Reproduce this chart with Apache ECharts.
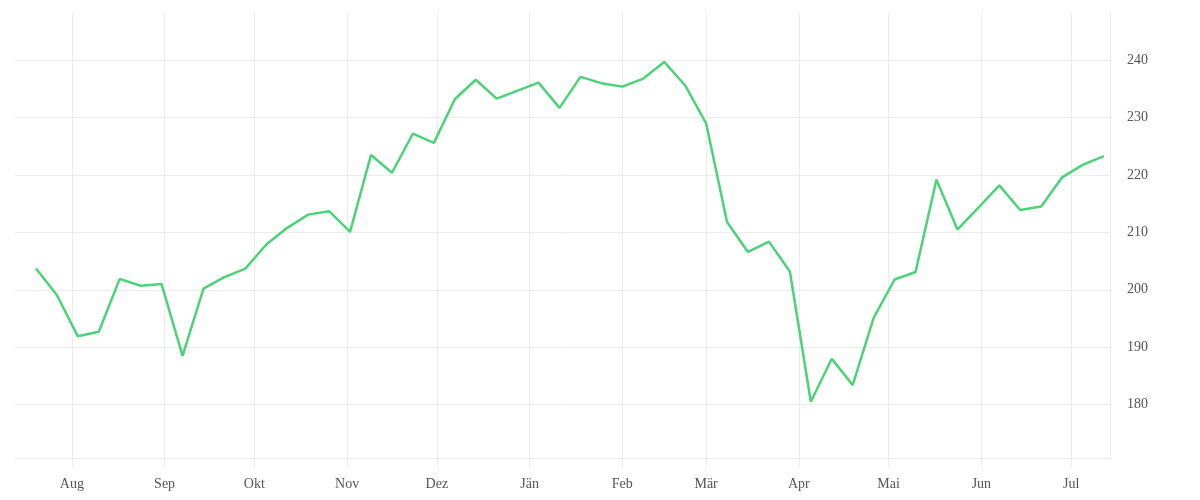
<!DOCTYPE html>
<html>
	<head>
		<meta charset="UTF-8">
		<title></title>
		<style type="text/css">
			* {
				margin: 0;
				padding: 0;
			}
			#chart {
				width: 1200px;
				height: 500px;
			}
		</style>
	</head>
	<body>
		<div id="chart"></div>
		<script src="https://cdn.jsdelivr.net/npm/echarts@6/dist/echarts.min.js"></script>
		<script type="text/javascript">
			// erster Wert, danach woechentlich
			var startDate = '2018-07-20';
			var values = [
				203.7, 199.1, 191.9, 192.7, 201.9, 200.7, 201.0, 188.5, 200.2, 202.2,
				203.7, 207.9, 210.8, 213.1, 213.7, 210.1, 223.5, 220.4, 227.2, 225.6,
				233.2, 236.6, 233.3, 234.7, 236.1, 231.7, 237.1, 236.0, 235.4, 236.8,
				239.7, 235.6, 229.0, 211.8, 206.6, 208.4, 203.2, 180.5, 188.0, 183.4,
				195.1, 201.8, 203.1, 219.2, 210.5, 214.3, 218.2, 213.9, 214.5, 219.6,
				221.8, 223.3
			];
			var monthNames = ['Jän', 'Feb', 'Mär', 'Apr', 'Mai', 'Jun', 'Jul', 'Aug', 'Sep', 'Okt', 'Nov', 'Dez'];
			var xMin = '2018-07-13';
			var xMax = '2019-07-14';
			var yMin = 170.7;
			var yMax = 248.4;

			var DAY = 86400000;
			var t0 = new Date(startDate).getTime();
			var seriesData = [];
			for(var i = 0; i < values.length; i++) {
				seriesData.push([t0 + i * 7 * DAY, values[i]]);
			}

			var gridColor = '#ececec';
			var chart = echarts.init(document.getElementById('chart'));
			chart.setOption({
				animation: false,
				grid: {
					left: 15,
					right: 90,
					top: 12,
					bottom: 42,
					containLabel: false
				},
				xAxis: {
					type: 'time',
					min: xMin,
					max: xMax,
					splitNumber: 12,
					minInterval: 28 * DAY,
					maxInterval: 31 * DAY,
					axisLine: {
						show: true,
						lineStyle: { color: gridColor, width: 1 }
					},
					axisTick: {
						show: true,
						length: 10,
						lineStyle: { color: gridColor, width: 1 }
					},
					splitLine: {
						show: true,
						showMinLine: false,
						lineStyle: { color: gridColor, width: 1 }
					},
					axisLabel: {
						showMinLabel: false,
						showMaxLabel: false,
						margin: 19,
						color: '#555',
						fontFamily: 'Liberation Serif',
						fontSize: 14,
						fontWeight: 'normal',
						formatter: function(value) {
							return monthNames[new Date(value).getMonth()];
						}
					}
				},
				yAxis: {
					type: 'value',
					position: 'right',
					min: yMin,
					max: yMax,
					splitNumber: 8,
					axisLine: {
						show: true,
						lineStyle: { color: gridColor, width: 1 }
					},
					axisTick: { show: false },
					splitLine: {
						show: true,
						showMinLine: false,
						showMaxLine: false,
						lineStyle: { color: gridColor, width: 1 }
					},
					axisLabel: {
						showMinLabel: false,
						showMaxLabel: false,
						margin: 17,
						color: '#555',
						fontFamily: 'Liberation Serif',
						fontSize: 14
					}
				},
				series: [{
					type: 'line',
					data: seriesData,
					showSymbol: false,
					symbol: 'none',
					lineStyle: {
						color: '#4cd37a',
						width: 2.5
					}
				}]
			});
		</script>
	</body>
</html>
